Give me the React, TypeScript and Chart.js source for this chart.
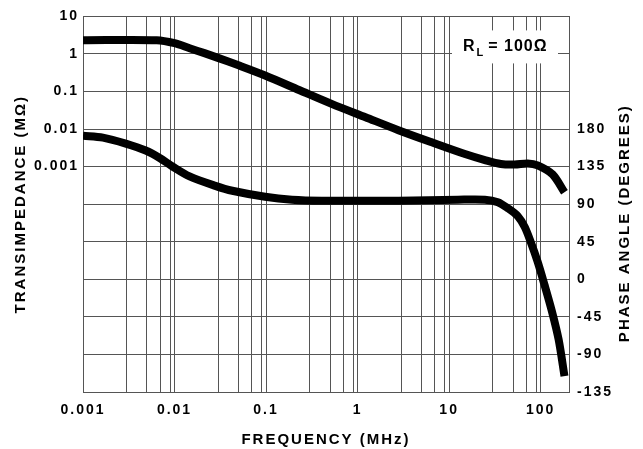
import React, { useEffect, useRef } from 'react';
import { Chart, registerables } from 'chart.js';

Chart.register(...registerables);

const FONT = "'Liberation Sans', Arial, Helvetica, sans-serif";

// X axis (frequency, MHz)
const xDecades = [0.001, 0.01, 0.1, 1, 10, 100];
const xDecadeLabels = ['0.001', '0.01', '0.1', '1', '10', '100'];
const xMinorSteps = [3, 5, 7, 9];
const xMin = 0.001;
const xMax = 204;

// Left axis (transimpedance, MΩ)
const yLeftDecades = [10, 1, 0.1, 0.01, 0.001, 1e-4, 1e-5, 1e-6, 1e-7, 1e-8, 1e-9];
const yLeftLabelled = [10, 1, 0.1, 0.01, 0.001];
const yLeftLabels = ['10', '1', '0.1', '0.01', '0.001'];
const yLeftMin = 1e-9;
const yLeftMax = 10;

// Right axis (phase, degrees)
const phaseMin = -135;
const phaseMax = 315;
const phaseStep = 45;
const phaseLabelMax = 180;

// Transimpedance curve
const tzFreq = [0.001, 0.0064, 0.01, 0.0146, 0.0212, 0.0293, 0.0509, 0.0976, 0.229, 0.52, 1.22, 2.79, 6.37, 14.9, 24.6, 36.7, 52.1, 72.2, 92.7, 135, 182];
const tzValue = [2.32, 2.32, 1.93, 1.42, 1.05, 0.798, 0.49, 0.267, 0.11, 0.047, 0.0207, 0.00936, 0.0045, 0.00217, 0.0015, 0.00118, 0.00114, 0.00122, 0.00108, 0.00062, 0.000207];

// Phase curve
const phFreq = [0.001, 0.00165, 0.00293, 0.00484, 0.00688, 0.0095, 0.0146, 0.0279, 0.0427, 0.0976, 0.192, 0.406, 2.79, 12.5, 24.6, 34.1, 43.8, 56.2, 67.0, 77.8, 92.7, 110, 132, 157, 182];
const phValue = [172.1, 169.8, 162.6, 154.3, 145.4, 135.2, 123.3, 112.0, 106.1, 98.9, 95.4, 94.2, 94.2, 95.4, 95.4, 92.4, 85.2, 75.7, 62.6, 44.8, 21.0, -6.4, -37.3, -71.9, -115.9];

const GRID = '#555';
const RIGHT_TITLE = 'PHASE ANGLE (DEGREES)';

const near = (a: number, b: number) => Math.abs(a - b) <= Math.abs(b) * 1e-6;

const spacingPlugin = {
  id: 'spacing',
  beforeUpdate(chart: any) {
    chart.ctx.letterSpacing = '2px';
  },
  beforeDraw(chart: any) {
    chart.ctx.letterSpacing = '2px';
  },
};

const annotPlugin = {
  id: 'annot',
  beforeDatasetsDraw(chart: any) {
    const { ctx, chartArea } = chart;
    const r = chartArea.right;
    const t = chartArea.top;
    ctx.save();
    ctx.fillStyle = '#fff';
    ctx.fillRect(r - 117, t + 14, 106, 33);
    ctx.fillStyle = '#000';
    ctx.letterSpacing = '1px';
    ctx.textAlign = 'left';
    ctx.textBaseline = 'alphabetic';
    let x = r - 106;
    const y = t + 35;
    ctx.font = `bold 16px ${FONT}`;
    ctx.fillText('R', x, y);
    x += ctx.measureText('R').width + 1;
    ctx.font = `bold 11px ${FONT}`;
    ctx.fillText('L', x, y + 5);
    x += ctx.measureText('L').width + 4;
    ctx.font = `bold 16px ${FONT}`;
    ctx.fillText('= 100Ω', x, y);
    ctx.restore();
  },
  afterDraw(chart: any) {
    const { ctx, chartArea, width } = chart;
    ctx.save();
    ctx.letterSpacing = '2px';
    ctx.font = `bold 15px ${FONT}`;
    ctx.fillStyle = '#000';
    ctx.textAlign = 'center';
    ctx.textBaseline = 'middle';
    ctx.translate(width - 18, (chartArea.top + chartArea.bottom) / 2 + 19);
    ctx.rotate(-Math.PI / 2);
    ctx.fillText(RIGHT_TITLE, 0, 0);
    ctx.restore();
  },
};

export default function App() {
  const ref = useRef<HTMLCanvasElement | null>(null);

  useEffect(() => {
    if (!ref.current) return;
    const xTicks: number[] = [];
    xDecades.forEach((d) => {
      xTicks.push(d);
      if (d < 100) xMinorSteps.forEach((m) => xTicks.push(d * m));
    });
    xTicks.push(xMax);

    const tickFont = { family: FONT, size: 14, weight: 'bold' as const };
    const titleFont = { family: FONT, size: 15, weight: 'bold' as const };

    const chart = new Chart(ref.current, {
      type: 'line',
      data: {
        datasets: [
          {
            label: 'Transimpedance',
            data: tzFreq.map((f, i) => ({ x: f, y: tzValue[i] })),
            yAxisID: 'y',
            borderColor: '#000',
            borderWidth: 8,
            pointRadius: 0,
            tension: 0.3,
            fill: false,
          },
          {
            label: 'Phase',
            data: phFreq.map((f, i) => ({ x: f, y: phValue[i] })),
            yAxisID: 'y1',
            borderColor: '#000',
            borderWidth: 8,
            pointRadius: 0,
            tension: 0.3,
            fill: false,
          },
        ],
      },
      options: {
        animation: false,
        responsive: false,
        maintainAspectRatio: false,
        layout: { padding: { top: 13, left: 0, right: 0, bottom: 0 } },
        plugins: {
          legend: { display: false },
          tooltip: { enabled: false },
        },
        scales: {
          x: {
            type: 'logarithmic',
            min: xMin,
            max: xMax,
            afterBuildTicks: (scale: any) => {
              scale.ticks = xTicks.map((v) => ({ value: v }));
            },
            afterFit: (scale: any) => {
              scale.height = 57;
            },
            ticks: {
              autoSkip: false,
              maxRotation: 0,
              minRotation: 0,
              padding: 10,
              color: '#000',
              font: tickFont,
              callback: (v: any) => {
                const i = xDecades.findIndex((d) => near(Number(v), d));
                return i >= 0 ? xDecadeLabels[i] : '';
              },
            },
            grid: { color: GRID, lineWidth: 1, drawTicks: false },
            border: { display: true, color: GRID },
            title: {
              display: true,
              text: 'FREQUENCY (MHz)',
              color: '#000',
              font: titleFont,
              padding: { top: 7, bottom: 0 },
            },
          },
          y: {
            type: 'logarithmic',
            position: 'left',
            min: yLeftMin,
            max: yLeftMax,
            afterBuildTicks: (scale: any) => {
              scale.ticks = yLeftDecades.slice().reverse().map((v) => ({ value: v }));
            },
            afterFit: (scale: any) => {
              scale.width = 83;
            },
            ticks: {
              autoSkip: false,
              padding: 4,
              color: '#000',
              font: tickFont,
              callback: (v: any) => {
                const i = yLeftLabelled.findIndex((d) => near(Number(v), d));
                return i >= 0 ? yLeftLabels[i] : '';
              },
            },
            grid: { color: GRID, lineWidth: 1, drawTicks: false },
            border: { display: true, color: GRID },
            title: {
              display: true,
              text: 'TRANSIMPEDANCE (MΩ)',
              color: '#000',
              font: titleFont,
              padding: { top: 12, bottom: 0 },
            },
          },
          y1: {
            type: 'linear',
            position: 'right',
            min: phaseMin,
            max: phaseMax,
            afterFit: (scale: any) => {
              scale.width = 74;
            },
            ticks: {
              stepSize: phaseStep,
              autoSkip: false,
              padding: 8,
              color: '#000',
              font: tickFont,
              callback: (v: any) => (Number(v) <= phaseLabelMax ? String(v) : ''),
            },
            grid: { display: false, drawTicks: false },
            border: { display: true, color: GRID },
            title: { display: false },
          },
        },
      },
      plugins: [spacingPlugin, annotPlugin],
    } as any);

    return () => chart.destroy();
  }, []);

  return (
    <div style={{ position: 'fixed', left: 0, top: 0, width: 643, height: 449, background: '#fff' }}>
      <canvas ref={ref} width={643} height={449} style={{ display: 'block', width: 643, height: 449 }} />
    </div>
  );
}
